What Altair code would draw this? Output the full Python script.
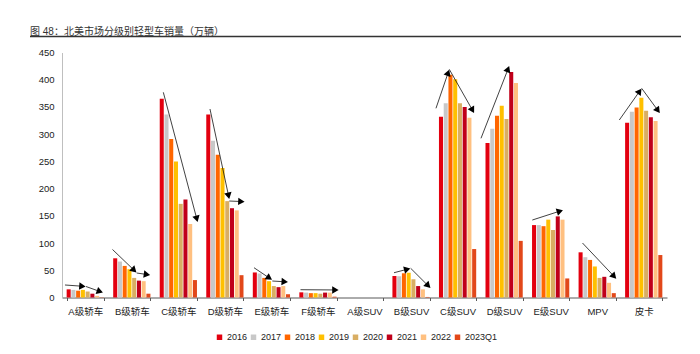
import math
import altair as alt
import pandas as pd

FONT = "Liberation Sans, Noto Sans CJK SC, sans-serif"

title_text = "图 48：北美市场分级别轻型车销量（万辆）"
categories = ["A级轿车", "B级轿车", "C级轿车", "D级轿车", "E级轿车", "F级轿车",
              "A级SUV", "B级SUV", "C级SUV", "D级SUV", "E级SUV", "MPV", "皮卡"]
years = ["2016", "2017", "2018", "2019", "2020", "2021", "2022", "2023Q1"]

v2016 = [15, 72, 365, 336, 46, 9.5, 0, 39.5, 332, 284, 133, 83, 321]
v2017 = [14, 66, 336, 288, 44, 9, 0, 39, 357, 310, 133, 74, 341]
v2018 = [12.5, 58, 291, 262, 36, 8, 0, 44.5, 409, 334, 131, 69, 349]
v2019 = [14, 52, 250, 238, 30, 8, 0, 45.5, 401, 352, 143, 57, 367]
v2020 = [11, 36, 172, 177, 21, 7, 0, 33.5, 357, 328, 124, 36, 343]
v2021 = [7, 31, 180, 164, 19, 9, 0, 21, 350, 414, 149, 38, 331]
v2022 = [3, 30, 135, 160, 21, 9, 0, 15, 330, 394, 143, 27, 324]
v2023q1 = [0.5, 7, 32, 41, 6, 1.5, 0, 1, 89, 104, 35, 8, 78]

colors = ["#E3000F", "#C8C8C8", "#FF6600", "#FFC000", "#D9AE63", "#C0001A", "#FFC080", "#E2481A"]

# trend arrows, in data units (x: category index position 0..13, y: value)
arrow_x0 = [0.064, 0.516, 1.085, 1.605, 2.177, 3.180, 3.595, 4.126, 4.519, 5.125,
            7.134, 7.493, 8.036, 8.322, 9.003, 10.106, 11.184, 11.975, 12.456]
arrow_y0 = [22.96, 20.2, 88.2, 45.0, 376.9, 346.2, 177.2, 54.7, 30.3, 14.3,
            45.5, 53.6, 347.5, 419.1, 292.4, 142.3, 100.1, 326.0, 384.2]
arrow_x1 = [0.516, 0.887, 1.605, 1.902, 2.916, 3.595, 3.932, 4.519, 4.863, 5.952,
            7.493, 7.923, 8.322, 8.859, 9.612, 10.772, 11.915, 12.456, 12.850]
arrow_y1 = [20.2, 8.8, 45.5, 41.3, 138.1, 180.4, 176.0, 32.1, 28.5, 13.8,
            53.6, 16.9, 419.1, 338.3, 425.7, 160.7, 34.0, 384.2, 338.3]

W, H = 605, 245
XMAX, YMAX = 13, 450

series = dict(zip(years, [v2016, v2017, v2018, v2019, v2020, v2021, v2022, v2023q1]))
rows = []
for yr in years:
    for c, v in zip(categories, series[yr]):
        rows.append({"cat": c, "year": yr, "value": v})
df = pd.DataFrame(rows)

arows = []
R = 3.6
for x0, y0, x1, y1 in zip(arrow_x0, arrow_y0, arrow_x1, arrow_y1):
    dxp = (x1 - x0) / XMAX * W
    dyp = -(y1 - y0) / YMAX * H
    L = math.hypot(dxp, dyp)
    ang = math.degrees(math.atan2(dyp, dxp)) % 360
    hx = x1 - R * dxp / L * XMAX / W
    hy = y1 + R * dyp / L * YMAX / H
    arows.append({"x0": x0, "y0": y0, "x1": hx, "y1": hy, "hx": hx, "hy": hy, "ang": ang})
adf = pd.DataFrame(arows)
tdf = pd.DataFrame({"t": [title_text]})

yscale = alt.Scale(domain=[0, 450], nice=False)
yaxis = alt.Axis(values=list(range(0, 451, 50)), grid=False, ticks=False,
                 labelOverlap=False, labelFont=FONT, labelFontSize=9.5,
                 labelColor="#222", domainColor="#BFBFBF", labelPadding=8)

bars = alt.Chart(df).mark_bar().encode(
    x=alt.X("cat:N", sort=categories, title=None,
            scale=alt.Scale(paddingInner=0.2, paddingOuter=0.1),
            axis=alt.Axis(labelAngle=0, labelFont=FONT, labelFontSize=9.5, labelColor="#222",
                          domainColor="#595959", domainWidth=1, tickBand="extent",
                          tickSize=3, tickColor="#595959", labelPadding=6)),
    xOffset=alt.XOffset("year:N", sort=years, scale=alt.Scale(paddingInner=0.15)),
    y=alt.Y("value:Q", scale=yscale, title=None, axis=yaxis),
    color=alt.Color("year:N", sort=years, scale=alt.Scale(domain=years, range=colors),
                    legend=alt.Legend(title=None, orient="none", direction="horizontal",
                                      legendX=153, legendY=280, symbolType="square",
                                      symbolSize=30, symbolStrokeWidth=0, labelFont=FONT,
                                      labelFontSize=9, labelColor="#222",
                                      columnPadding=1, labelOffset=3)),
)

xq = alt.Scale(domain=[0, XMAX], nice=False, zero=False)
lines = alt.Chart(adf).mark_rule(color="#111", strokeWidth=0.8).encode(
    x=alt.X("x0:Q", scale=xq, axis=None),
    x2="x1:Q",
    y=alt.Y("y0:Q", scale=yscale, title=None, axis=yaxis),
    y2="y1:Q",
)
heads = alt.Chart(adf).mark_point(shape="triangle-right", filled=True, size=55,
                                  color="#000", opacity=1).encode(
    x=alt.X("hx:Q", scale=xq, axis=None),
    y=alt.Y("hy:Q", scale=yscale, title=None, axis=yaxis),
    angle=alt.Angle("ang:Q", scale=None),
)

underline = alt.Chart(tdf).mark_rule(color="#333", strokeWidth=1.3).encode(
    x=alt.value(-32), x2=alt.value(619), y=alt.value(-16)
)
title = alt.Chart(tdf).mark_text(align="left", baseline="middle", font=FONT, fontSize=10,
                                 color="#333").encode(
    x=alt.value(-32), y=alt.value(-21), text="t:N"
)

chart = alt.layer(bars, lines + heads, underline, title).resolve_scale(x="independent").properties(
    width=W, height=H,
    autosize=alt.AutoSizeParams(type="none"),
    padding={"left": 62, "top": 52.5, "right": 33, "bottom": 56.5},
).configure_view(stroke=None)

chart.save("out.html", embed_options={"renderer": "svg", "actions": False})
